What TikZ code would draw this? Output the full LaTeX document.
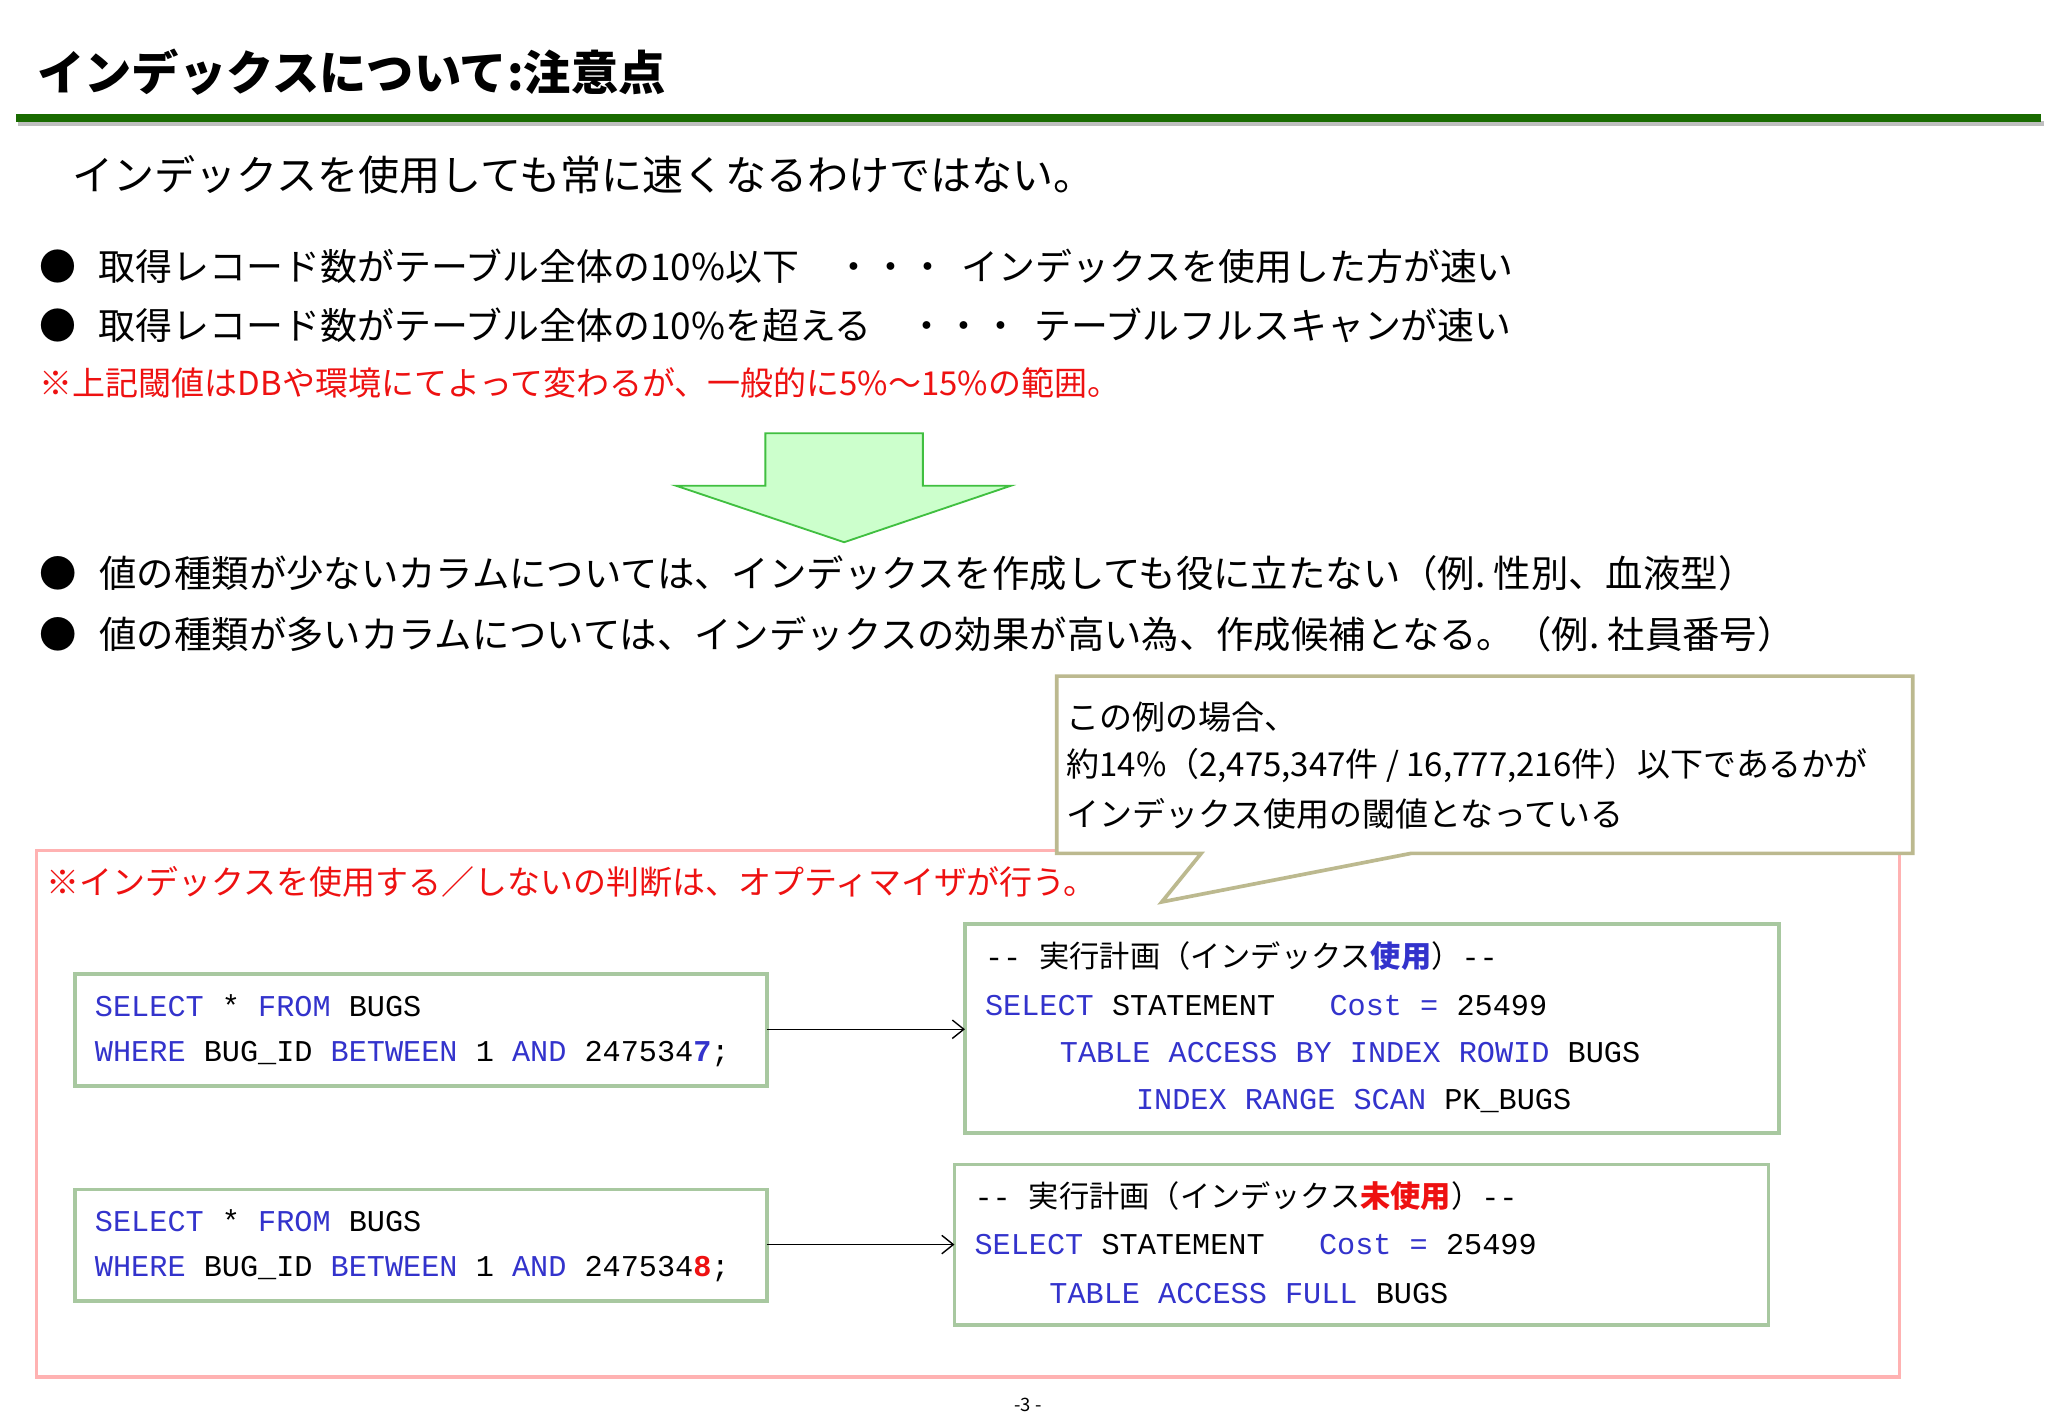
\documentclass[tikz,border=0pt]{standalone}
\usepackage{fontspec}
\setmainfont{Noto Sans CJK JP}
\newfontfamily\jp{Noto Sans CJK JP}
\newfontfamily\cd{Liberation Mono}
\usetikzlibrary{arrows.meta}
\definecolor{kw}{HTML}{3333CC}
\definecolor{rd}{HTML}{EE1111}
\definecolor{gb}{HTML}{A8C8A0}
\begin{document}
\begin{tikzpicture}[x=0.02cm,y=-0.02cm,
 t/.style={anchor=west,inner sep=0pt},
 codebox/.style={draw=gb,line width=1.6pt},
 cl/.style={anchor=west,inner sep=0pt,font=\cd\fontsize{13.1}{16}\selectfont},
 conn/.style={-{Straight Barb[length=5pt,width=8pt]},line width=0.6pt}]
\useasboundingbox[fill=white] (0,0) rectangle (1560,1080);
% header
\node[t,font=\bfseries\fontsize{20.5}{24}\selectfont] (title) at (28,55) {インデックスについて:注意点};
\fill[gray!50] (14,92) rectangle (1557,96);
\fill[green!40!black!80!olive] (12,87) rectangle (1555,93);
\node[t,font=\fontsize{17.8}{22}\selectfont] (l1) at (55,133) {インデックスを使用しても常に速くなるわけではない。};
\node[t,font=\fontsize{16}{20}\selectfont] (b1) at (30,203) {●\hspace{0.6em}取得レコード数がテーブル全体の10\%以下\hspace{1em}・・・\hspace{0.4em}インデックスを使用した方が速い};
\node[t,font=\fontsize{16}{20}\selectfont] (b2) at (30,248) {●\hspace{0.6em}取得レコード数がテーブル全体の10\%を超える\hspace{1em}・・・\hspace{0.4em}テーブルフルスキャンが速い};
\node[t,font=\fontsize{14.3}{18}\selectfont,text=rd] (n1) at (30,292) {※上記閾値はDBや環境にてよって変わるが、一般的に5\%～15\%の範囲。};
% big arrow
\draw[fill=green!20,draw=green!50!gray,line width=0.8pt] (583,330)--(703,330)--(703,370)--(770,370)--(643,413)--(515,370)--(583,370)--cycle;
\node[t,font=\fontsize{16.2}{20}\selectfont] (b3) at (30,437) {●\hspace{0.6em}値の種類が少ないカラムについては、インデックスを作成しても役に立たない（例.~性別、血液型）};
\node[t,font=\fontsize{16.2}{20}\selectfont] (b4) at (30,483) {●\hspace{0.6em}値の種類が多いカラムについては、インデックスの効果が高い為、作成候補となる。（例.~社員番号）};
% outer pink
\draw[draw=red!30,line width=1.5pt] (28,648) rectangle (1447,1049);
\node[t,font=\fontsize{14.3}{18}\selectfont,text=rd] (n2) at (35,672) {※インデックスを使用する／しないの判断は、オプティマイザが行う。};
% callout
\draw[draw=gray!60!olive!60,fill=white,line width=1.6pt] (805,515)--(1457,515)--(1457,650)--(1075,650)--(885,687)--(915,650)--(805,650)--cycle;
\node[t,font=\fontsize{14.3}{18}\selectfont] (c1) at (812,546) {この例の場合、};
\node[t,font=\fontsize{14.3}{18}\selectfont] (c2) at (812,583) {約14\%（2,475,347件 / 16,777,216件）以下であるかが};
\node[t,font=\fontsize{14.3}{18}\selectfont] (c3) at (812,620) {インデックス使用の閾値となっている};
% code boxes
\draw[codebox] (57,742) rectangle (584,827);
\node[cl] (q1a) at (72,766) {\textcolor{kw}{SELECT} * \textcolor{kw}{FROM} BUGS};
\node[cl] (q1b) at (72,803) {\textcolor{kw}{WHERE} BUG\_ID \textcolor{kw}{BETWEEN} 1 \textcolor{kw}{AND} 247534\textcolor{kw}{\bfseries 7};};
\draw[codebox] (57,906) rectangle (584,991);
\node[cl] (q2a) at (72,930) {\textcolor{kw}{SELECT} * \textcolor{kw}{FROM} BUGS};
\node[cl] (q2b) at (72,967) {\textcolor{kw}{WHERE} BUG\_ID \textcolor{kw}{BETWEEN} 1 \textcolor{kw}{AND} 247534\textcolor{rd}{\bfseries 8};};
\draw[codebox] (735,704) rectangle (1355,863);
\node[cl] (p1a) at (750,728) {-- {\jp 実行計画（インデックス\textcolor{kw}{\bfseries 使用}）}--};
\node[cl] (p1b) at (750,766) {\textcolor{kw}{SELECT} STATEMENT\ \ \ \textcolor{kw}{Cost = }25499};
\node[cl] (p1c) at (807,802) {\textcolor{kw}{TABLE ACCESS BY INDEX ROWID} BUGS};
\node[cl] (p1d) at (865,839) {\textcolor{kw}{INDEX RANGE SCAN} PK\_BUGS};
\draw[codebox] (727,887) rectangle (1347,1009);
\node[cl] (p2a) at (742,911) {-- {\jp 実行計画（インデックス\textcolor{rd}{\bfseries 未使用}）}--};
\node[cl] (p2b) at (742,948) {\textcolor{kw}{SELECT} STATEMENT\ \ \ \textcolor{kw}{Cost = }25499};
\node[cl] (p2c) at (799,985) {\textcolor{kw}{TABLE ACCESS FULL} BUGS};
\coordinate (s1) at (584,784); \coordinate (e1) at (735,784);
\coordinate (s2) at (584,948); \coordinate (e2) at (727,948);
\draw[conn] (s1)--(e1);
\draw[conn] (s2)--(e2);
\node[font=\fontsize{8}{10}\selectfont] (pg) at (783,1070) {-3 -};
\end{tikzpicture}
\end{document}
